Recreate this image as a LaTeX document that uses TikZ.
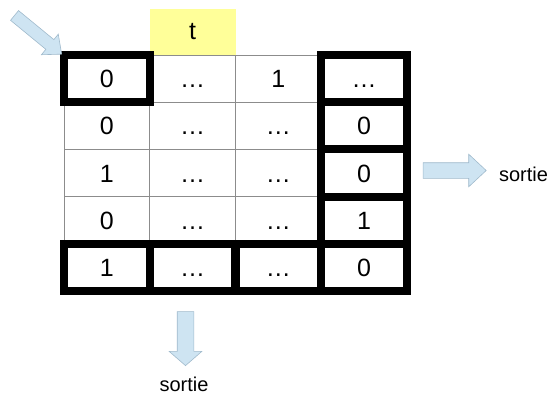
\documentclass[tikz,border=0pt]{standalone}
\usepackage{fontspec}
\setmainfont{Liberation Sans}
\usetikzlibrary{shapes.arrows}
\definecolor{arrowblue}{RGB}{206,228,242}
\definecolor{arrowedge}{RGB}{160,186,204}
\definecolor{headyellow}{RGB}{255,255,153}
\tikzset{
	cell/.style={shape=rectangle, draw=black!45, line width=0.7pt, minimum width=85.75pt, minimum height=47.2pt, inner sep=0pt, text height=18pt, text depth=0pt, font=\fontsize{25}{29}\selectfont},
	boldcell/.style={cell, draw=black, line width=8pt},
	outarrow/.style={single arrow, draw=arrowedge, fill=arrowblue, line width=0.6pt},
	label/.style={font=\fontsize{20}{24}\selectfont}
}
\begin{document}
\begin{tikzpicture}[x=1pt, y=-1pt]
		\useasboundingbox (0,0) rectangle (552,394);
		\draw (192.6,32) node[fill=headyellow, minimum width=86pt, minimum height=46pt, inner sep=0pt, font=\fontsize{25}{29}\selectfont](head){t};
		\draw (192.6,78.6) node[cell](c12){\dots};
		\draw (278.4,78.6) node[cell](c13){1};
		\draw (106.9,125.8) node[cell](c21){0};
		\draw (192.6,125.8) node[cell](c22){\dots};
		\draw (278.4,125.8) node[cell](c23){\dots};
		\draw (106.9,173) node[cell](c31){1};
		\draw (192.6,173) node[cell](c32){\dots};
		\draw (278.4,173) node[cell](c33){\dots};
		\draw (106.9,220.2) node[cell](c41){0};
		\draw (192.6,220.2) node[cell](c42){\dots};
		\draw (278.4,220.2) node[cell](c43){\dots};
		\draw (106.9,78.6) node[boldcell](c11){0};
		\draw (364.1,78.6) node[boldcell](c14){\dots};
		\draw (364.1,125.8) node[boldcell](c24){0};
		\draw (364.1,173) node[boldcell](c34){0};
		\draw (364.1,220.2) node[boldcell](c44){1};
		\draw (106.9,267.4) node[boldcell](c51){1};
		\draw (192.6,267.4) node[boldcell](c52){\dots};
		\draw (278.4,267.4) node[boldcell](c53){\dots};
		\draw (364.1,267.4) node[boldcell](c54){0};
		\draw (35.3,32.5) node[outarrow, rotate=-39.4, inner sep=6pt, minimum height=61pt, minimum width=26pt, single arrow head extend=7pt, single arrow tip angle=82](in){};
		\draw (450.5,170.5) node[outarrow, inner sep=7.5pt, minimum height=63pt, minimum width=32pt, single arrow head extend=8.5pt, single arrow tip angle=86](outright){};
		\draw (523.5,174) node[label](sortieright){sortie};
		\draw (185.5,335) node[outarrow, rotate=-90, inner sep=8pt, minimum height=54pt, minimum width=32pt, single arrow head extend=8pt, single arrow tip angle=98](outdown){};
		\draw (184,384) node[label](sortiedown){sortie};
	\end{tikzpicture}
\end{document}
